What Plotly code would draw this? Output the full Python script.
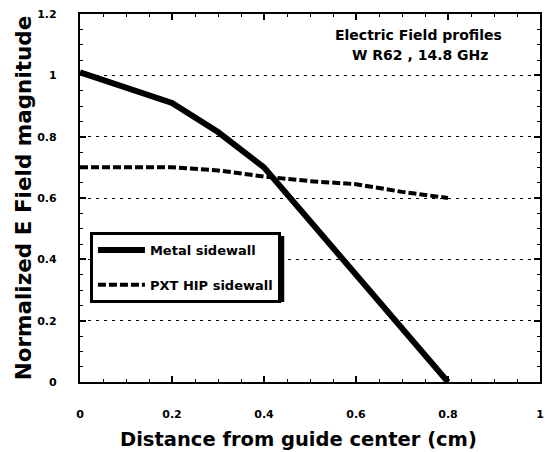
import plotly.graph_objects as go

# Electric field profiles across the guide (normalized magnitude)
metal_x = [0.0, 0.2, 0.3, 0.4, 0.8]
metal_y = [1.01, 0.91, 0.815, 0.70, 0.0]

pxt_x = [0.0, 0.1, 0.2, 0.3, 0.4, 0.5, 0.6, 0.7, 0.8]
pxt_y = [0.70, 0.70, 0.70, 0.69, 0.67, 0.655, 0.645, 0.62, 0.60]

series_names = ["Metal sidewall", "PXT HIP sidewall"]
x_ticks = [0, 0.2, 0.4, 0.6, 0.8, 1]
x_tick_text = ["0", "0.2", "0.4", "0.6", "0.8", "1"]
y_ticks = [0, 0.2, 0.4, 0.6, 0.8, 1, 1.2]
y_tick_text = ["0", "0.2", "0.4", "0.6", "0.8", "1", "1.2"]

FONT = "DejaVu Sans"
NBSP = "\u00a0"

# tick labels sit well away from the frame: x labels drop one (large) line,
# y labels carry trailing non-breaking spaces
x_labels = ["<br><span style='font-size:11px'>%s</span>" % t for t in x_tick_text]
y_labels = [t + NBSP * 5 for t in y_tick_text]

fig = go.Figure()
fig.add_trace(go.Scatter(
    x=metal_x, y=metal_y, mode="lines", name=series_names[0],
    line=dict(color="black", width=6), legendgroup="a",
))
fig.add_trace(go.Scatter(
    x=pxt_x, y=pxt_y, mode="lines", name=series_names[1],
    line=dict(color="black", width=4, dash="8px,3px"), legendgroup="b",
))

axis_common = dict(
    showline=True, linecolor="black", linewidth=2, mirror="ticks",
    ticks="inside", ticklen=6, tickwidth=1.5, tickcolor="black",
    zeroline=False,
    minor=dict(ticks="inside", ticklen=3, tickwidth=1, tickcolor="black",
               dtick=0.05, showgrid=False),
)

fig.update_xaxes(
    range=[0, 1], tickvals=x_ticks, ticktext=x_labels, tickangle=0,
    tickfont=dict(family=FONT, size=13.5, color="black", weight="bold"),
    showgrid=False,
    **axis_common,
)
fig.update_yaxes(
    range=[0, 1.2], tickvals=y_ticks, ticktext=y_labels,
    tickfont=dict(family=FONT, size=11, color="black", weight="bold"),
    showgrid=True, gridcolor="black", gridwidth=1.2, griddash="3px,5px",
    title=dict(text="Normalized E Field magnitude", standoff=0,
               font=dict(family=FONT, size=21.5, color="black", weight="bold")),
    **axis_common,
)

# x-axis title, set slightly left of the plot centre
fig.add_annotation(
    x=0.474, y=-0.1576, xref="paper", yref="paper", showarrow=False,
    xanchor="center", yanchor="middle",
    text="Distance from guide center (cm)",
    font=dict(family=FONT, size=19.5, color="black", weight="bold"),
)

# caption in the upper right of the plot
fig.add_annotation(
    x=0.736, y=1.1315, xref="paper", yref="y", showarrow=False,
    xanchor="center", yanchor="middle", text="Electric Field profiles",
    font=dict(family=FONT, size=14, color="black", weight="bold"),
)
fig.add_annotation(
    x=0.740, y=1.0663, xref="paper", yref="y", showarrow=False,
    xanchor="center", yanchor="middle", text="W R62 , 14.8 GHz",
    font=dict(family=FONT, size=14, color="black", weight="bold"),
)

# drop shadow under the legend box
fig.add_shape(
    type="rect", xref="paper", yref="paper",
    x0=(94 - 80) / 464, x1=(286 - 80) / 464,
    y0=(382 - 302) / 368, y1=(382 - 236) / 368,
    fillcolor="black", line=dict(width=0), layer="above",
)

fig.update_layout(
    width=550, height=452,
    margin=dict(l=80, r=6, t=14, b=70),
    paper_bgcolor="white", plot_bgcolor="white",
    showlegend=True,
    legend=dict(
        x=0.0216, y=0.4076, xanchor="left", yanchor="top",
        bgcolor="white", bordercolor="black", borderwidth=3,
        tracegroupgap=15, traceorder="grouped", itemwidth=47,
        font=dict(family=FONT, size=13, color="black", weight="bold"),
    ),
)

fig.write_html("out.html")
